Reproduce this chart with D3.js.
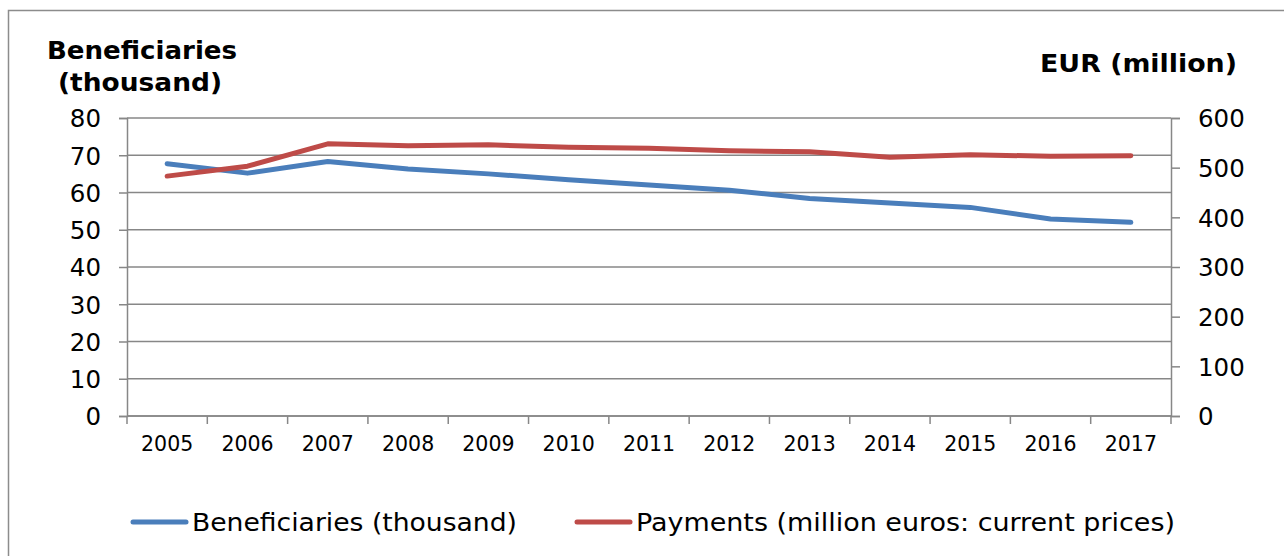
<!DOCTYPE html>
<html>
<head>
<meta charset="utf-8">
<script src="https://cdn.jsdelivr.net/npm/d3@7/dist/d3.min.js"></script>
<style>
body { margin: 0; background: #fff; }
svg { display: block; font-family: "DejaVu Sans", Verdana, sans-serif; }
</style>
</head>
<body>
<script>
var years = ['2005','2006','2007','2008','2009','2010','2011','2012','2013','2014','2015','2016','2017'];
var beneficiaries = [67.7, 65.2, 68.3, 66.3, 65.0, 63.4, 62.0, 60.6, 58.4, 57.2, 56.0, 52.9, 52.0];
var payments = [483, 503, 548, 544, 546, 541, 539, 534, 532, 521, 526, 523, 524];
var leftTicks = [0, 10, 20, 30, 40, 50, 60, 70, 80];
var rightTicks = [0, 100, 200, 300, 400, 500, 600];

var W = 1284, H = 556;
var plotL = 127, plotR = 1171, plotT = 118, plotB = 416;
var grey = '#878787';

var svg = d3.select('body').append('svg')
	.attr('width', W)
	.attr('height', H);

// chart border
svg.append('rect')
	.attr('x', 8.5).attr('y', 10.5)
	.attr('width', 1300).attr('height', 600)
	.attr('fill', 'none')
	.attr('stroke', '#8c8c8c')
	.attr('stroke-width', 1.5);

var x = d3.scaleBand().domain(years).range([plotL, plotR]);
var yL = d3.scaleLinear().domain([0, 80]).range([plotB, plotT]);
var yR = d3.scaleLinear().domain([0, 600]).range([plotB, plotT]);

// gridlines
svg.append('g')
	.selectAll('line')
	.data(leftTicks)
	.enter()
	.append('line')
	.attr('x1', plotL).attr('x2', plotR)
	.attr('y1', (d) => yL(d)).attr('y2', (d) => yL(d))
	.attr('stroke', grey)
	.attr('stroke-width', 1.5);

// left axis
var gL = svg.append('g')
	.attr('transform', 'translate(' + plotL + ',0)')
	.call(d3.axisLeft(yL).tickValues(leftTicks).tickSize(8).tickPadding(18));
// right axis
var gR = svg.append('g')
	.attr('transform', 'translate(' + plotR + ',0)')
	.call(d3.axisRight(yR).tickValues(rightTicks).tickSize(9).tickPadding(18));
// bottom axis
var gB = svg.append('g')
	.attr('transform', 'translate(0,' + plotB + ')')
	.call(d3.axisBottom(x).tickSize(0).tickPadding(20));

[gL, gR, gB].forEach(function(g) {
	g.select('.domain').attr('stroke', grey).attr('stroke-width', 1.5);
	g.selectAll('.tick line').attr('stroke', grey).attr('stroke-width', 1.5);
	g.selectAll('text').attr('fill', '#000').attr('font-family', '"DejaVu Sans", Verdana, sans-serif');
});
gL.selectAll('text').attr('font-size', 24.5).attr('dy', '0.36em');
gR.selectAll('text').attr('font-size', 24.5).attr('dy', '0.36em');
gB.selectAll('text').attr('font-size', 20.5);
gB.select('.domain').attr('d', 'M' + plotL + ',0H' + plotR);

// category boundary ticks
var bounds = years.map((d) => x(d)).concat([plotR]);
svg.append('g')
	.selectAll('line')
	.data(bounds)
	.enter()
	.append('line')
	.attr('x1', (d) => d).attr('x2', (d) => d)
	.attr('y1', plotB).attr('y2', plotB + 8)
	.attr('stroke', grey)
	.attr('stroke-width', 1.5);

var cx = (d, i) => x(years[i]) + x.bandwidth() / 2;

var lineL = d3.line().x(cx).y((d) => yL(d));
var lineR = d3.line().x(cx).y((d) => yR(d));

svg.append('path')
	.attr('d', lineL(beneficiaries))
	.attr('fill', 'none')
	.attr('stroke', '#4a7ebb')
	.attr('stroke-width', 5)
	.attr('stroke-linecap', 'round')
	.attr('stroke-linejoin', 'round');

svg.append('path')
	.attr('d', lineR(payments))
	.attr('fill', 'none')
	.attr('stroke', '#be4b48')
	.attr('stroke-width', 5)
	.attr('stroke-linecap', 'round')
	.attr('stroke-linejoin', 'round');

// axis titles
var titles = [
	{t: 'Beneficiaries', x: 47, y: 59, w: 190},
	{t: '(thousand)', x: 58, y: 91, w: 164},
	{t: 'EUR (million)', x: 1040, y: 72, w: 197}
];
svg.append('g')
	.selectAll('text')
	.data(titles)
	.enter()
	.append('text')
	.attr('x', (d) => d.x).attr('y', (d) => d.y)
	.attr('font-weight', 'bold')
	.attr('font-size', 24)
	.attr('textLength', (d) => d.w)
	.attr('lengthAdjust', 'spacingAndGlyphs')
	.text((d) => d.t);

// legend
var legend = [
	{name: 'Beneficiaries (thousand)', color: '#4a7ebb', x: 133, w: 325},
	{name: 'Payments (million euros: current prices)', color: '#be4b48', x: 577, w: 539}
];
var lg = svg.append('g')
	.selectAll('g')
	.data(legend)
	.enter()
	.append('g');
lg.append('line')
	.attr('x1', (d) => d.x).attr('x2', (d) => d.x + 53)
	.attr('y1', 522).attr('y2', 522)
	.attr('stroke', (d) => d.color)
	.attr('stroke-width', 5)
	.attr('stroke-linecap', 'round');
lg.append('text')
	.attr('x', (d) => d.x + 59)
	.attr('y', 531)
	.attr('font-family', '"DejaVu Sans Condensed", "DejaVu Sans", sans-serif')
	.attr('font-size', 25)
	.attr('textLength', (d) => d.w)
	.attr('lengthAdjust', 'spacingAndGlyphs')
	.text((d) => d.name);
</script>
</body>
</html>
